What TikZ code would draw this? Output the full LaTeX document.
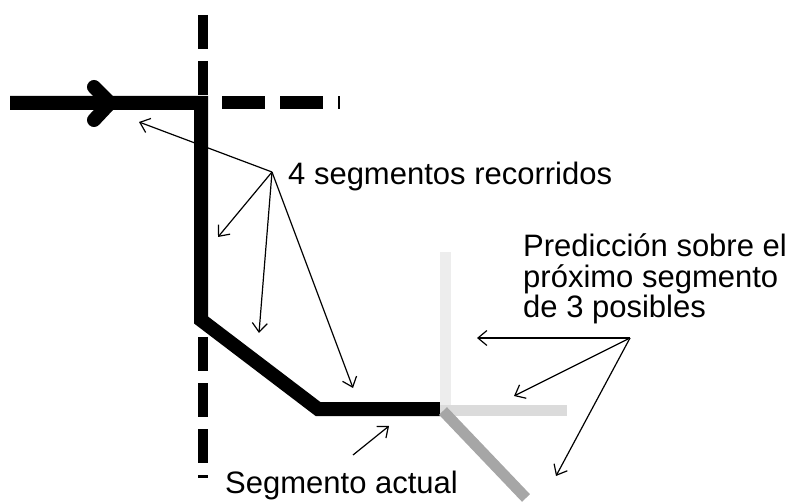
\documentclass[tikz,border=0pt]{standalone}
\usepackage{fontspec}
\setmainfont{Liberation Sans}
\usetikzlibrary{arrows.meta}
\begin{document}
\begin{tikzpicture}[x=1pt, y=1pt,
  track/.style={line width=14pt},
  gridline/.style={line width=10pt, dash pattern=on 34pt off 12pt},
  option/.style={line width=11pt},
  lbl/.style={font=\fontsize{31}{30.5}\selectfont, inner sep=0pt},
  arr/.style={-{Straight Barb[length=9pt, width=15pt]}, line width=1.2pt}
]
\useasboundingbox (0,0) rectangle (792,-502);
% crossing street (dashed)
\draw[gridline] (203,-15) -- (203,-478);
\draw[gridline, line width=13pt, dash pattern=on 43pt off 15pt] (222,-103) -- (340,-103);
% travelled segments
\coordinate (s0) at (10,-103);
\coordinate (c1) at (201,-103);
\coordinate (c2) at (201,-320);
\coordinate (c3) at (318,-409);
\coordinate (c4) at (440,-409);
\draw[track] (s0) -- (c1) -- (c2) -- (c3) -- (c4);
\draw[track, line cap=round] (94,-87) -- (110,-103) -- (94,-120);
% possible next segments
\draw[option, black!7] (445,-252) -- (445,-409);
\draw[option, black!14] (440,-410) -- (567,-410);
\draw[option, black!35] (443,-411) -- (526,-498);
% labels
\node[lbl, anchor=base west] (txtrec) at (288,-185) {4 segmentos recorridos};
\node[lbl, anchor=base west, align=left] (txtpred) at (523,-318) {Predicción sobre el\\próximo segmento\\de 3 posibles};
\node[lbl, anchor=base west] (txtact) at (225,-493) {Segmento actual};
% arrows
\coordinate (rec) at (272,-172);
\coordinate (r1) at (139,-122);
\coordinate (r2) at (218,-237);
\coordinate (r3) at (259,-333);
\coordinate (r4) at (353,-388);
\foreach \t in {r1,r2,r3,r4}
  \draw[arr] (rec) -- (\t);
\coordinate (pred) at (630,-338);
\coordinate (p1) at (477,-338);
\coordinate (p2) at (514,-396);
\coordinate (p3) at (556,-476);
\foreach \t in {p1,p2,p3}
  \draw[arr] (pred) -- (\t);
\coordinate (act) at (353,-455);
\coordinate (a1) at (389,-426);
\draw[arr] (act) -- (a1);
\end{tikzpicture}
\end{document}
